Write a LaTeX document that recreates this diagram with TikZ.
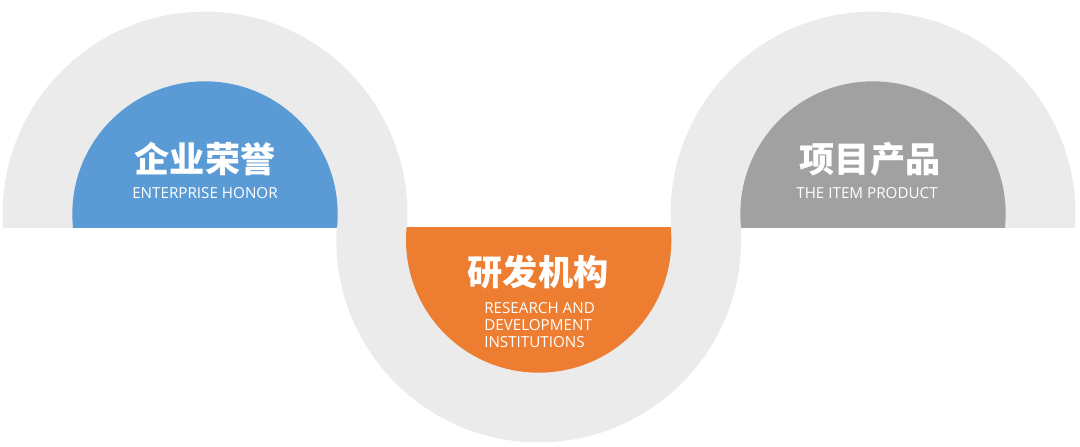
\documentclass[tikz,border=0pt]{standalone}
\usepackage{fontspec}
\setmainfont{Open Sans}
\newfontfamily\cjk{Noto Sans CJK SC}
\usetikzlibrary{positioning}
\definecolor{honorblue}{HTML}{5B9BD5}
\definecolor{rdorange}{HTML}{ED7D31}
\definecolor{itemgray}{HTML}{A0A1A0}
\definecolor{ringgray}{HTML}{EBEBEB}
\tikzset{
 ring/.style={fill=ringgray},
 title/.style={
 text=white,
 inner sep=0pt,
 font=\cjk\bfseries\fontsize{26.4}{30}\selectfont
 },
 subtitle/.style={
 text=white,
 inner sep=0pt,
 align=center,
 font=\fontsize{11.4}{12.75}\selectfont
 }
}

\begin{document}
\begin{tikzpicture}[x=0.75pt, y=-0.75pt]
	\useasboundingbox (0,0) rectangle (1080,446);
	% upper halves
	\begin{scope}
		\clip (0,0) rectangle (1080,227);
		\fill[ring] (205,214) circle[radius=151.8pt];
		\fill[honorblue] (205,214) circle[radius=99.5pt];
		\fill[ring] (873,214) circle[radius=151.8pt];
		\fill[itemgray] (873,214) circle[radius=99.5pt];
	\end{scope}
	% lower half
	\begin{scope}
		\clip (0,227) rectangle (1080,446);
		\fill[ring] (538.7,240) circle[radius=151.8pt];
		\fill[rdorange] (538.7,240) circle[radius=99.5pt];
	\end{scope}

	\node[title] (honor) at (205,159) {企业荣誉};
	\node[subtitle] (honoren) at (205,193) {ENTERPRISE HONOR};

	\node[title] (rd) at (538,272) {研发机构};
	\node[subtitle, align=left, anchor=west] (rden) at (484,325) {RESEARCH AND\\DEVELOPMENT\\INSTITUTIONS};

	\node[title] (item) at (870,159) {项目产品};
	\node[subtitle] (itemen) at (867,193) {THE ITEM PRODUCT};
\end{tikzpicture}
\end{document}
